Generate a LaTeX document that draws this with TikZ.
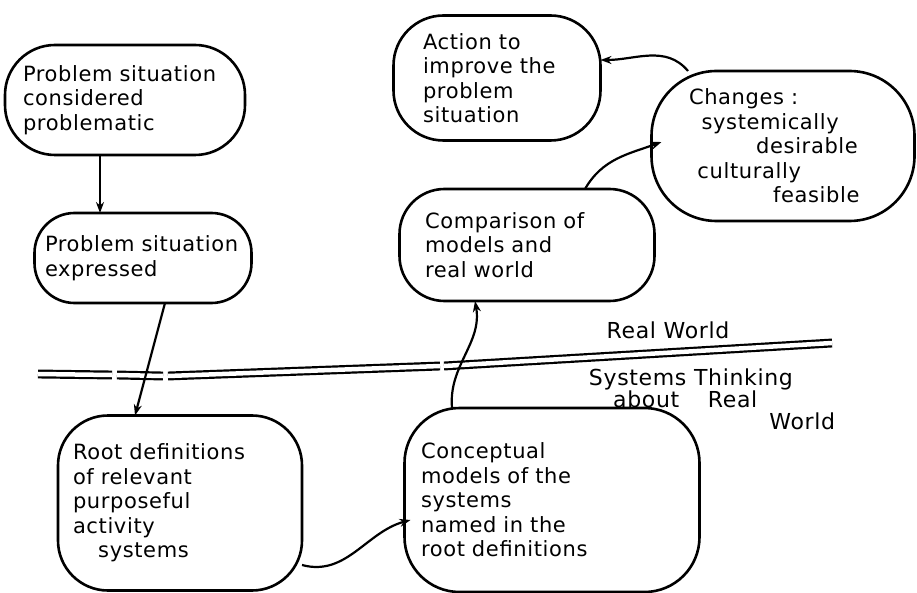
\documentclass[tikz,border=0pt]{standalone}
\usepackage{fontspec}
\setmainfont{DejaVu Sans}[LetterSpace=3]
\usetikzlibrary{arrows.meta}
\begin{document}
\begin{tikzpicture}[x=1pt,y=1pt,inner sep=0pt,outer sep=0pt,line width=2.2pt,
>={Stealth[length=11pt,width=8pt]},
blob/.style={draw,rectangle,line width=2.6pt,align=left,inner sep=6pt,
  font=\fontsize{21}{24.5}\selectfont},
divider/.style={double,double distance=4.5pt,line width=2.2pt},
tag/.style={align=left,font=\fontsize{22}{22}\selectfont}]
\useasboundingbox (0,0) rectangle (917,592);
\draw (125,492) node[blob,rounded corners=50pt,minimum width=240pt,minimum height=110pt,text width=204pt] (consid) {Problem situation\\ considered\\ problematic};
\draw (143,334) node[blob,rounded corners=40pt,minimum width=217pt,minimum height=90pt,text width=196pt] (express) {Problem situation\\ expressed};
\draw (180,89) node[blob,rounded corners=50pt,minimum width=244pt,minimum height=175pt,text width=214pt] (rootdef) {Root definitions\\ of relevant\\ purposeful\\ activity\\ \hspace*{1.2em}systems};
\draw (552,92) node[blob,rounded corners=55pt,minimum width=295pt,minimum height=184pt,text width=262pt] (concept) {Conceptual\\ models of the\\ systems\\ named in the\\ root definitions};
\draw (527,347) node[blob,rounded corners=45pt,minimum width=255pt,minimum height=112pt,text width=204pt] (compare) {Comparison of\\ models and\\ real world};
\draw (497,514) node[blob,rounded corners=50pt,minimum width=207pt,minimum height=125pt,text width=148pt] (action) {Action to\\ improve the\\ problem\\ situation};
\draw (783,446) node[blob,rounded corners=65pt,minimum width=263pt,minimum height=150pt,text width=188pt] (change) {Changes :\\ \hspace*{0.6em}systemically\\ \hspace*{3.2em}desirable\\ \hspace*{0.4em}culturally\\ \hspace*{4em}feasible};
% real world / systems thinking boundary
\draw[divider] (38,218) -- (112,217);
\draw[divider] (117,217) -- (163,216);
\draw[divider] (168,216) -- (440,226);
\draw[divider] (444,226) -- (832,249);
\draw (668,262) node[tag] (rw) {Real World};
\draw (712,193) node[tag] (st) {Systems Thinking\\ \hspace*{1.1em}about\hspace{1.3em}Real\\ \hspace*{8.2em}World};
% the learning cycle
\draw[->] ([xshift=-25pt]consid.south) -- ([xshift=-43pt]express.north);
\draw[->] ([xshift=22pt]express.south) -- ([xshift=-45pt]rootdef.north);
\draw[->] ([yshift=-62pt]rootdef.east) to[out=-15,in=195] ([xshift=6pt,yshift=-20pt]concept.west);
\draw[->] ([xshift=-100pt]concept.north) to[out=95,in=-80] ([xshift=-52pt]compare.north |- compare.south);
\draw[->] ([xshift=58pt]compare.north) to[out=60,in=200] ([xshift=10pt,yshift=4pt]change.west);
\draw[->] ([xshift=-95pt]change.north) to[out=130,in=0] ([yshift=18pt]action.east);
\end{tikzpicture}
\end{document}
